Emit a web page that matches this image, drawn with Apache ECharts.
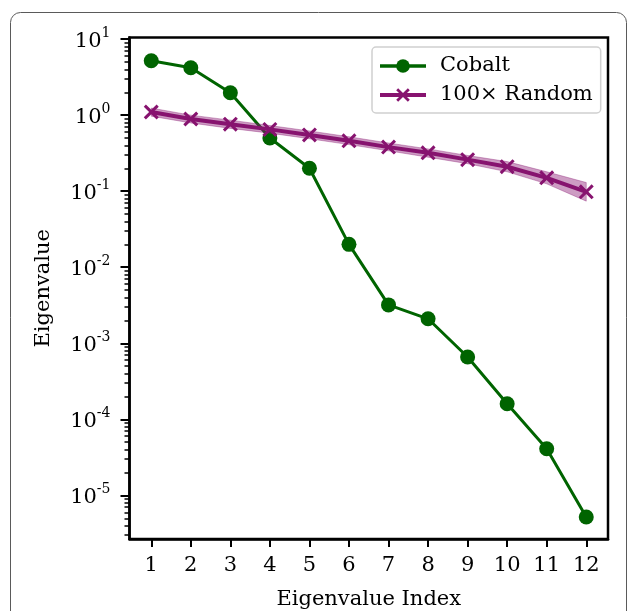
<!DOCTYPE html>
<html>
<head>
<meta charset="utf-8">
<script src="https://cdn.jsdelivr.net/npm/echarts@6/dist/echarts.min.js"></script>
<style>
html, body { margin: 0; padding: 0; background: #fff; }
#main { width: 629px; height: 611px; }
</style>
</head>
<body>
<div id="main"></div>
<script>
// eigenvalue index (x)
const indices = [1, 2, 3, 4, 5, 6, 7, 8, 9, 10, 11, 12]
// Cobalt eigenvalues
const cobalt = [5.2, 4.2, 1.97, 0.5, 0.2, 0.020, 0.0032, 0.0021, 0.00066, 0.00016, 0.000041, 0.0000052]
// 100x random, mean and band
const random100 = [1.1, 0.89, 0.76, 0.65, 0.55, 0.46, 0.38, 0.32, 0.26, 0.21, 0.15, 0.098]
const randomUpper = [1.24, 1.0, 0.86, 0.73, 0.62, 0.52, 0.43, 0.36, 0.295, 0.245, 0.18, 0.13]
const randomLower = [0.97, 0.79, 0.67, 0.58, 0.49, 0.41, 0.34, 0.28, 0.23, 0.18, 0.125, 0.074]
// tick labels
const xTicks = [1, 2, 3, 4, 5, 6, 7, 8, 9, 10, 11, 12]
const yTicks = [1e-5, 1e-4, 1e-3, 1e-2, 1e-1, 1, 10]
const yMin = 2.67e-6
const yMax = 10.5

const GREEN = '#006400'
const PURPLE = '#87136f'
const FONT = 'DejaVu Serif'
const FS = 21

let yMinorTicks = []
for (let e = -6; e <= 1; e++) {
  for (let m = 2; m <= 9; m++) {
    let v = m * Math.pow(10, e)
    if (v > yMin && v < yMax) yMinorTicks.push(v)
  }
}

const chart = echarts.init(document.getElementById('main'), null, { renderer: 'canvas' })

let supLabel = (v) => {
  let exp = Math.round(Math.log10(v))
  return '{b|10}{s|' + exp + '}'
}

// 'x' marker
let crossPath = 'path://M0,2L2,0L7,5L12,0L14,2L9,7L14,12L12,14L7,9L2,14L0,12L5,7Z'

let yAxisBase = {
  type: 'log',
  min: yMin,
  max: yMax,
  splitLine: { show: false },
  minorTick: { show: false }
}

let option = {
  animation: false,
  textStyle: { fontFamily: FONT },
  graphic: [
    {
      type: 'rect',
      shape: { x: 10.5, y: 12.5, width: 616, height: 700, r: 10 },
      style: { fill: 'none', stroke: '#5a5a5a', lineWidth: 1 },
      silent: true
    }
  ],
  grid: {
    left: 129.5,
    top: 37.5,
    right: 21,
    bottom: 72,
    outerBoundsMode: 'none',
    containLabel: false,
    show: true,
    borderColor: '#000',
    borderWidth: 2.5,
    backgroundColor: 'transparent'
  },
  legend: {
    left: 372,
    top: 47,
    orient: 'vertical',
    data: [
      { name: 'Cobalt', lineStyle: { width: 3.5 } },
      { name: '100× Random', lineStyle: { width: 4 } }
    ],
    itemWidth: 46,
    itemHeight: 17,
    itemGap: 5,
    padding: [7, 8, 6, 6],
    backgroundColor: 'rgba(255,255,255,0.8)',
    borderColor: '#d0d0d0',
    borderWidth: 1.5,
    borderRadius: 4,
    textStyle: {
      fontFamily: FONT,
      fontSize: FS,
      color: '#000',
      lineHeight: 24,
      padding: [0, 0, 0, 9]
    }
  },
  xAxis: {
    type: 'value',
    min: 0.45,
    max: 12.55,
    name: 'Eigenvalue Index',
    nameLocation: 'middle',
    nameGap: 50,
    nameTextStyle: { fontFamily: FONT, fontSize: FS, color: '#000' },
    axisLine: { show: true, onZero: false, lineStyle: { color: '#000', width: 2.5 } },
    axisTick: { show: true, customValues: xTicks, length: 8, lineStyle: { color: '#000', width: 2 } },
    axisLabel: { customValues: xTicks, margin: 16, fontFamily: FONT, fontSize: FS, color: '#000' },
    splitLine: { show: false }
  },
  yAxis: [
    Object.assign({}, yAxisBase, {
      position: 'left',
      name: 'Eigenvalue',
      nameLocation: 'middle',
      nameGap: 75,
      nameRotate: 90,
      nameTextStyle: { fontFamily: FONT, fontSize: FS, color: '#000' },
      axisLine: { show: true, lineStyle: { color: '#000', width: 2.5 } },
      axisTick: { show: true, customValues: yTicks, length: 9, lineStyle: { color: '#000', width: 2 } },
      axisLabel: {
        customValues: yTicks,
        margin: 19,
        formatter: supLabel,
        rich: {
          b: { fontFamily: FONT, fontSize: FS, color: '#000', lineHeight: 26, verticalAlign: 'bottom' },
          s: { fontFamily: FONT, fontSize: 14, color: '#000', lineHeight: 14, verticalAlign: 'top' }
        }
      }
    }),
    // minor ticks only, moved onto the left edge
    Object.assign({}, yAxisBase, {
      position: 'right',
      offset: -478.5,
      axisLine: { show: false },
      axisTick: { show: true, inside: true, customValues: yMinorTicks, length: 5, lineStyle: { color: '#000', width: 1.5 } },
      axisLabel: { show: false }
    })
  ],
  series: [
    {
      name: 'Cobalt',
      type: 'line',
      yAxisIndex: 0,
      data: indices.map((x, i) => [x, cobalt[i]]),
      symbol: 'circle',
      symbolSize: 15,
      z: 2,
      lineStyle: { color: GREEN, width: 3 },
      itemStyle: { color: GREEN }
    },
    {
      name: 'band',
      type: 'custom',
      yAxisIndex: 0,
      silent: true,
      z: 3,
      data: [[1, 1]],
      renderItem (params, api) {
        let pts = []
        indices.forEach((x, i) => { pts.push(api.coord([x, randomUpper[i]])) })
        for (let i = indices.length - 1; i >= 0; i--) {
          pts.push(api.coord([indices[i], randomLower[i]]))
        }
        return {
          type: 'polygon',
          shape: { points: pts },
          style: { fill: 'rgba(135,19,111,0.42)', stroke: 'rgba(135,19,111,0.35)', lineWidth: 1 }
        }
      }
    },
    {
      name: '100× Random',
      type: 'line',
      yAxisIndex: 0,
      data: indices.map((x, i) => [x, random100[i]]),
      symbol: crossPath,
      symbolSize: 15,
      z: 4,
      lineStyle: { color: PURPLE, width: 4 },
      itemStyle: { color: PURPLE }
    }
  ]
}

chart.setOption(option)
</script>
</body>
</html>
